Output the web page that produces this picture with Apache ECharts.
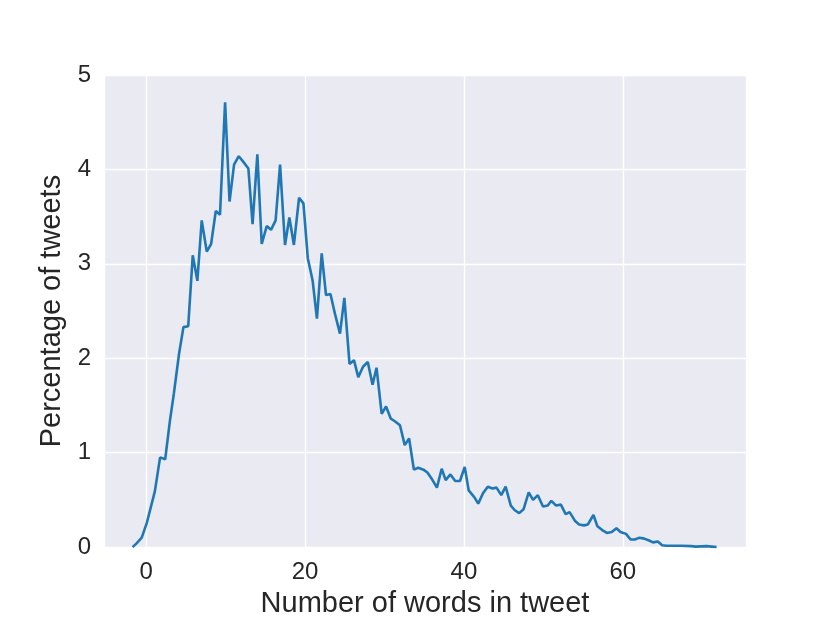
<!DOCTYPE html>
<html lang="en">

<head>
    <meta charset="UTF-8">
    <title>Number of words in tweet</title>
    <script src="https://cdn.jsdelivr.net/npm/echarts@6.0.0/dist/echarts.min.js"></script>
</head>

<body style="margin: 0;">
    <div id="words-chart" style="width: 830px;height: 623px;"></div>
</body>
<script type="text/javascript">
    // 每条推文的词数 (x) 和对应的推文百分比 (y)
    var wordCounts = [
        -1.7, -1.2, -0.55, 0.1, 1.1, 1.76, 2.4, 3.0, 3.5, 4.15,
        4.7, 5.3, 5.87, 6.45, 7.0, 7.63, 8.18, 8.77, 9.3, 9.94,
        10.5, 11.07, 11.66, 12.24, 12.87, 13.4, 14.0, 14.55, 15.18, 15.72,
        16.3, 16.86, 17.48, 18.03, 18.6, 19.25, 19.8, 20.35, 20.96, 21.5,
        22.1, 22.64, 23.2, 23.77, 24.4, 24.95, 25.6, 26.16, 26.7, 27.3,
        27.9, 28.5, 29.0, 29.65, 30.2, 30.8, 31.35, 31.95, 32.55, 33.1,
        33.7, 34.25, 34.9, 35.4, 35.9, 36.6, 37.2, 37.7, 38.3, 38.9,
        39.5, 40.1, 40.6, 41.3, 41.8, 42.4, 43.0, 43.6, 44.1, 44.7,
        45.25, 45.9, 46.4, 46.96, 47.5, 48.15, 48.7, 49.3, 49.95, 50.55,
        51.0, 51.6, 52.2, 52.8, 53.3, 53.96, 54.5, 55.1, 55.6, 56.3,
        56.8, 57.4, 58.0, 58.6, 59.2, 59.7, 60.4, 60.97, 61.5, 62.1,
        62.7, 63.3, 63.8, 64.4, 64.95, 65.5, 66.5, 67.2, 68.6, 69.2,
        70.5, 71.8
    ];
    var tweetPercents = [
        0, 0.04, 0.1, 0.26, 0.59, 0.95, 0.93, 1.34, 1.63, 2.05,
        2.33, 2.34, 3.09, 2.82, 3.46, 3.13, 3.21, 3.56, 3.52, 4.71,
        3.66, 4.05, 4.14, 4.08, 4.01, 3.42, 4.16, 3.21, 3.40, 3.36,
        3.46, 4.05, 3.20, 3.49, 3.20, 3.70, 3.64, 3.06, 2.82, 2.42,
        3.11, 2.67, 2.68, 2.47, 2.26, 2.64, 1.94, 1.98, 1.80, 1.91,
        1.96, 1.72, 1.90, 1.41, 1.49, 1.36, 1.33, 1.29, 1.08, 1.15,
        0.82, 0.84, 0.82, 0.79, 0.73, 0.63, 0.83, 0.71, 0.77, 0.70,
        0.70, 0.85, 0.60, 0.53, 0.46, 0.57, 0.64, 0.62, 0.63, 0.55,
        0.64, 0.44, 0.39, 0.36, 0.40, 0.58, 0.50, 0.55, 0.43, 0.44,
        0.49, 0.44, 0.45, 0.35, 0.37, 0.28, 0.24, 0.23, 0.24, 0.34,
        0.22, 0.18, 0.15, 0.16, 0.20, 0.16, 0.14, 0.08, 0.08, 0.10,
        0.09, 0.07, 0.05, 0.06, 0.02, 0.015, 0.015, 0.015, 0.01, 0.005,
        0.01, 0
    ];

    var lineData = wordCounts.map(function (x, i) {
        return [x, tweetPercents[i]];
    });

    var textColor = '#262626';
    var fontName = '"Liberation Sans", Arial, sans-serif';

    var chart = echarts.init(document.getElementById('words-chart'));

    var option = {
        animation: false,
        backgroundColor: '#ffffff',
        textStyle: { fontFamily: fontName },
        grid: {
            left: 104,
            right: 84,
            top: 75,
            bottom: 70,
            show: true,
            backgroundColor: '#eaeaf2',
            borderWidth: 0
        },
        xAxis: {
            type: 'value',
            min: -5.3,
            max: 75.5,
            minInterval: 20,
            maxInterval: 20,
            name: 'Number of words in tweet',
            nameLocation: 'middle',
            nameGap: 38,
            nameTextStyle: { fontSize: 29, color: textColor, fontFamily: fontName },
            axisLine: { show: false },
            axisTick: { show: false },
            axisLabel: {
                fontSize: 24,
                color: textColor,
                margin: 13,
                showMinLabel: false,
                showMaxLabel: false
            },
            splitLine: { show: true, lineStyle: { color: '#ffffff', width: 1.3 } }
        },
        yAxis: {
            type: 'value',
            min: 0,
            max: 5,
            interval: 1,
            name: 'Percentage of tweets',
            nameLocation: 'middle',
            nameGap: 35,
            nameTextStyle: { fontSize: 29, color: textColor, fontFamily: fontName },
            axisLine: { show: false },
            axisTick: { show: false },
            axisLabel: { fontSize: 24, color: textColor, margin: 13 },
            splitLine: { show: true, lineStyle: { color: '#ffffff', width: 1.3 } }
        },
        series: [{
            type: 'line',
            data: lineData,
            showSymbol: false,
            lineStyle: { color: '#1f77b4', width: 2.6 },
            itemStyle: { color: '#1f77b4' }
        }]
    };

    chart.setOption(option);
</script>

</html>
